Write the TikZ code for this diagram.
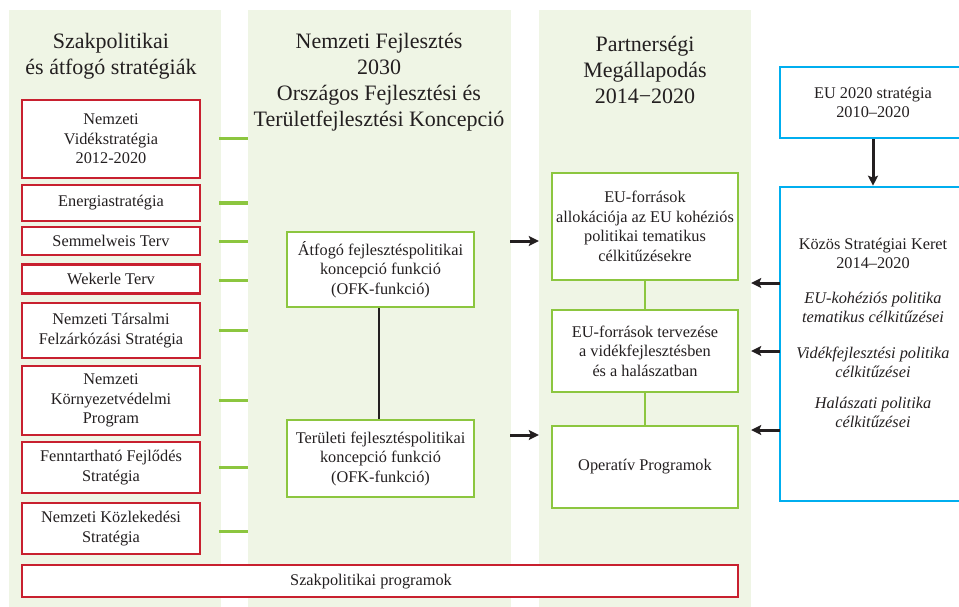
\documentclass[tikz,border=0pt]{standalone}
\usepackage{fontspec}
\setmainfont{Liberation Serif}
\usetikzlibrary{arrows.meta}
\definecolor{panelbg}{HTML}{EFF5E5}
\definecolor{redb}{HTML}{C8202F}
\definecolor{greenb}{HTML}{8CC63F}
\definecolor{blueb}{HTML}{00AEEF}
\definecolor{textc}{HTML}{231F20}
\begin{document}
\begin{tikzpicture}[x=1pt,y=-1pt,
  panel/.style={rectangle, fill=panelbg, draw=none, inner sep=0pt},
  boxbase/.style={rectangle, fill=white, align=center, inner sep=0pt, font=\fontsize{16.3}{19.5}\selectfont, text=textc},
  redbox/.style={boxbase, draw=redb, line width=2.3pt},
  greenbox/.style={boxbase, draw=greenb, line width=2.3pt},
  bluebox/.style={boxbase, draw=blueb, line width=2.6pt},
  plaintext/.style={align=center, inner sep=0pt, font=\fontsize{16.3}{19.5}\selectfont, text=textc},
  title/.style={align=center, inner sep=0pt, font=\fontsize{22}{26}\selectfont, text=textc},
  stub/.style={draw=greenb, line width=3pt},
  gline/.style={draw=greenb, line width=2.3pt},
  arr/.style={draw=textc, line width=3pt, -{Stealth[length=10pt,width=10pt,inset=2pt]}},
]
\useasboundingbox (0,0) rectangle (959,607);
\clip (0,0) rectangle (959,607);

% panels
\node[panel, minimum width=212pt, minimum height=597pt] (lp) at (115,308.5) {};
\node[panel, minimum width=263pt, minimum height=597pt] (mp) at (379.5,308.5) {};
\node[panel, minimum width=212pt, minimum height=597pt] (rp) at (645,308.5) {};

% titles
\node[title] (t1) at (111,56) {Szakpolitikai\\és átfogó stratégiák};
\node[title] (t2) at (379,82.5) {Nemzeti Fejlesztés\\2030\\Országos Fejlesztési és\\Területfejlesztési Koncepció};
\node[title] (t3) at (645,69.5) {Partnerségi\\Megállapodás\\2014−2020};

% left red boxes
\node[redbox, minimum width=178pt, minimum height=78pt] (b1) at (111,139) {Nemzeti\\Vidékstratégia\\2012-2020};
\node[redbox, minimum width=178pt, minimum height=36pt] (b2) at (111,203) {Energiastratégia};
\node[redbox, minimum width=178pt, minimum height=28pt] (b3) at (111,241) {Semmelweis Terv};
\node[redbox, minimum width=178pt, minimum height=29pt] (b4) at (111,279) {Wekerle Terv};
\node[redbox, minimum width=178pt, minimum height=55pt] (b5) at (111,330.5) {Nemzeti Társalmi\\Felzárkózási Stratégia};
\node[redbox, minimum width=178pt, minimum height=69pt] (b6) at (111,400.5) {Nemzeti\\Környezetvédelmi\\Program};
\node[redbox, minimum width=178pt, minimum height=51pt] (b7) at (111,467.5) {Fenntartható Fejlődés\\Stratégia};
\node[redbox, minimum width=178pt, minimum height=51pt] (b8) at (111,528.5) {Nemzeti Közlekedési\\Stratégia};

% stubs
\foreach \b/\yy in {b1/139,b2/203,b3/241,b4/280,b5/330,b6/400,b7/467,b8/531}{
  \draw[stub] (lp.east |- 0,\yy) ++(-2,0) -- (mp.west |- 0,\yy);
}

% bottom box
\node[redbox, minimum width=716pt, minimum height=32pt] (sp) at (380,581) {};
\node[plaintext] (spt) at (371,582) {Szakpolitikai programok};

% middle boxes
\node[greenbox, minimum width=187pt, minimum height=75pt] (m1) at (380.5,269.5) {Átfogó fejlesztéspolitikai\\koncepció funkció\\(OFK-funkció)};
\node[greenbox, minimum width=187pt, minimum height=77pt] (m2) at (380.5,458.5) {Területi fejlesztéspolitikai\\koncepció funkció\\(OFK-funkció)};
\draw[draw=textc, line width=1.2pt] (m1.south -| 379,0) -- (m2.north -| 379,0);

% right boxes
\node[greenbox, minimum width=186pt, minimum height=107pt] (r1) at (645,226.5) {EU-források\\allokációja az EU kohéziós\\politikai tematikus\\célkitűzésekre};
\node[greenbox, minimum width=186pt, minimum height=82pt] (r2) at (645,351) {EU-források tervezése\\a vidékfejlesztésben\\és a halászatban};
\node[greenbox, minimum width=186pt, minimum height=82pt] (r3) at (645,467) {Operatív Programok};
\draw[gline] (r1.south) -- (r2.north);
\draw[gline] (r2.south) -- (r3.north);

% middle -> right arrows
\coordinate (a1s) at (510,241);
\coordinate (a2s) at (510,435);
\draw[arr] (a1s) -- (rp.west |- a1s);
\draw[arr] (a2s) -- (rp.west |- a2s);

% blue boxes
\node[bluebox, minimum width=186pt, minimum height=71pt] (eu) at (873,102.5) {EU 2020 stratégia\\2010–2020};
\node[bluebox, minimum width=186pt, minimum height=314pt] (kk) at (873,344) {};
\node[plaintext] (kkt) at (873,333) {Közös Stratégiai Keret\\2014–2020\\[15pt]{\itshape EU-kohéziós politika}\\{\itshape tematikus célkitűzései}\\[16pt]{\itshape Vidékfejlesztési politika}\\{\itshape célkitűzései}\\[11pt]{\itshape Halászati politika}\\{\itshape célkitűzései}};
\draw[arr] (eu.south) -- (kk.north);

\coordinate (k1) at (780,283);
\coordinate (k2) at (780,351);
\coordinate (k3) at (780,430);
\draw[arr] (k1) -- (rp.east |- k1);
\draw[arr] (k2) -- (rp.east |- k2);
\draw[arr] (k3) -- (rp.east |- k3);
\end{tikzpicture}
\end{document}
